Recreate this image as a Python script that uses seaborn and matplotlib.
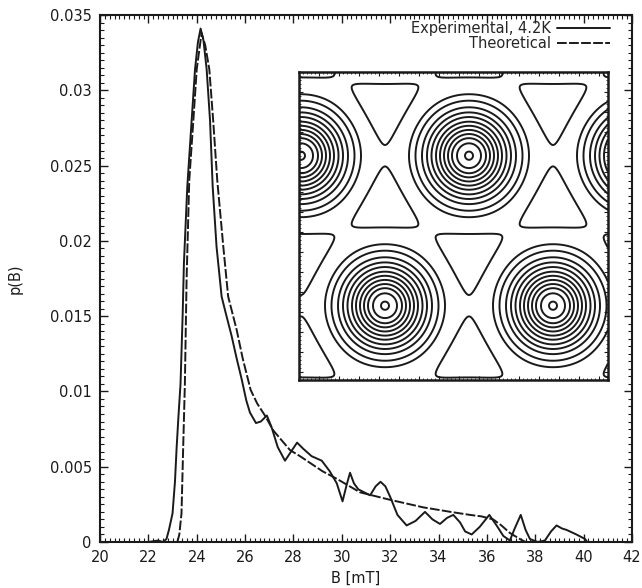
import numpy as np
import pandas as pd
import matplotlib
matplotlib.use("Agg")
import matplotlib.pyplot as plt
from matplotlib.ticker import MultipleLocator, FixedLocator, FuncFormatter
import seaborn as sns

# ---------------- data ----------------
exp_B = [20.0, 22.0, 22.4, 22.6, 22.75, 22.85, 23.0, 23.1, 23.17, 23.25, 23.33,
         23.42, 23.47, 23.61, 23.79, 23.93, 24.05, 24.16, 24.28, 24.41, 24.55,
         24.66, 24.82, 25.03, 25.2, 25.44, 25.65, 25.86, 26.05, 26.2, 26.45,
         26.65, 26.9, 27.1, 27.35, 27.65, 27.9, 28.15, 28.4, 28.75, 29.17,
         29.5, 29.79, 30.03, 30.2, 30.34, 30.5, 30.68, 31.17, 31.4, 31.6,
         31.8, 32.0, 32.3, 32.68, 33.05, 33.44, 33.75, 34.06, 34.35, 34.61,
         34.89, 35.1, 35.37, 35.7, 36.1, 36.4, 36.68, 36.95, 37.15, 37.4,
         37.6, 37.78, 38.1, 38.4, 38.65, 38.88, 39.1, 39.3, 39.7, 40.06, 40.15]
exp_p = [0.0, 0.0, 0.0001, 0.0, 0.0002, 0.0008, 0.0019, 0.0040, 0.0063, 0.0085, 0.0105,
         0.0152, 0.0185, 0.0236, 0.0280, 0.0314, 0.0332, 0.0341, 0.0333, 0.0314, 0.0280,
         0.0236, 0.0196, 0.0163, 0.0152, 0.0137, 0.0122, 0.0108, 0.0094, 0.0086, 0.0079,
         0.0080, 0.0084, 0.0076, 0.0063, 0.0054, 0.0060, 0.0066, 0.0062, 0.0057, 0.0054,
         0.0047, 0.0039, 0.0027, 0.0038, 0.0046, 0.0039, 0.0035, 0.0031, 0.0037, 0.0040,
         0.0037, 0.0030, 0.0018, 0.0011, 0.0014, 0.0020, 0.0015, 0.0012, 0.0016, 0.0018,
         0.0013, 0.0007, 0.0005, 0.0010, 0.0018, 0.0011, 0.0004, 0.0001, 0.0009, 0.0018,
         0.0008, 0.0002, 0.0, 0.0001, 0.0007, 0.0011, 0.0009, 0.0008, 0.0005, 0.0002, 0.0]

theo_B = [23.2, 23.28, 23.37, 23.44, 23.51, 23.58, 23.69, 23.86, 24.0, 24.2, 24.35,
          24.52, 24.68, 24.85, 25.1, 25.3, 25.65, 25.9, 26.23, 26.5, 26.82, 27.17,
          27.86, 28.27, 28.55, 29.2, 29.79, 30.75, 32.0, 33.37, 34.5, 35.3, 35.78,
          36.26, 36.6, 36.95, 37.36, 37.6]
theo_p = [0.0, 0.0005, 0.0019, 0.0063, 0.0105, 0.0174, 0.0240, 0.0280, 0.0314, 0.0338, 0.0330,
          0.0314, 0.0280, 0.0240, 0.0196, 0.0163, 0.0141, 0.0122, 0.0101, 0.0092, 0.0084, 0.0074,
          0.0061, 0.0057, 0.0054, 0.0047, 0.0042, 0.0033, 0.0028, 0.0023, 0.0020, 0.0018, 0.0017,
          0.0015, 0.0011, 0.0006, 0.0002, 0.0]

x_ticks = [20, 22, 24, 26, 28, 30, 32, 34, 36, 38, 40, 42]
y_ticks = [0, 0.005, 0.01, 0.015, 0.02, 0.025, 0.03, 0.035]
x_label = "B [mT]"
y_label = "p(B)"
labels = ["Experimental, 4.2K", "Theoretical"]

# inset: hexagonal vortex lattice (inset pixel coordinates, y downwards)
inset_size = (309, 308)
vortex_origin = (170.0, 83.7)
lattice_spacing = 168.0      # horizontal distance between vortices (px)
row_spacing = 150.0          # vertical distance between vortex rows (px)
ring_radii = [4, 12, 17, 21, 25, 29, 33, 37.5, 42, 47, 53.5, 60]
triangle_vertex_gap = 10.7   # distance of triangle tip from the saddle point (px)
london_lambda = 45.0
core_xi = 8.0

# ---------------- figure ----------------
sns.set_theme(style="ticks")
plt.rcParams['font.family'] = ['DejaVu Sans']

fig = plt.figure(figsize=(6.42, 5.88), dpi=100)
ax = fig.add_axes([100 / 642, 1 - 542 / 588, 532 / 642, 527 / 588])

df_exp = pd.DataFrame({"B": exp_B, "p": exp_p})
df_theo = pd.DataFrame({"B": theo_B, "p": theo_p})
sns.lineplot(data=df_exp, x="B", y="p", color="k", linewidth=1.4, ax=ax)
sns.lineplot(data=df_theo, x="B", y="p", color="k", linewidth=1.4, ax=ax)
l_exp, l_theo = ax.lines[0], ax.lines[1]
l_theo.set_dashes([5, 1.2])

ax.set_xlim(20, 42)
ax.set_ylim(0, 0.035)
ax.xaxis.set_major_locator(FixedLocator(x_ticks))
ax.yaxis.set_major_locator(FixedLocator(y_ticks))
ax.xaxis.set_minor_locator(MultipleLocator(0.2))
ax.yaxis.set_minor_locator(MultipleLocator(0.0005))
ax.xaxis.set_major_formatter(FuncFormatter(lambda v, p: "%g" % v))
ax.yaxis.set_major_formatter(FuncFormatter(lambda v, p: "%g" % round(v, 4)))
ax.tick_params(which="both", direction="in", top=True, right=True, color="k",
               labelsize=10.5, labelcolor="k")
ax.tick_params(which="major", length=6, width=1.0, pad=6)
ax.tick_params(which="minor", length=3, width=0.8)
for s in ax.spines.values():
    s.set_linewidth(1.5)
    s.set_color("k")
    s.set_visible(True)

ax.set_xlabel(x_label, fontsize=10.5, color="k")
ax.set_ylabel(y_label, fontsize=10.5, color="k")
ax.xaxis.set_label_coords(0.481, -0.054)
ax.yaxis.set_label_coords(-0.145, 0.5)

ax.legend(handles=[l_exp, l_theo], labels=labels, loc="upper right",
          bbox_to_anchor=(0.9586, 0.988), frameon=False, markerfirst=False,
          handlelength=3.6, handletextpad=0.45, labelspacing=0.0,
          borderpad=0, borderaxespad=0, fontsize=10.5)

# ---------------- inset: field contours ----------------
ax_in = fig.add_axes([299 / 642, 1 - 380 / 588, 309 / 642, 308 / 588])
W, H = inset_size
xs = np.linspace(0, W, 420)
ys = np.linspace(0, H, 420)
X, Y = np.meshgrid(xs, ys)

a = lattice_spacing
ideal_row = a * np.sqrt(3) / 2
yscale = ideal_row / row_spacing           # map picture rows onto an ideal triangular lattice
A = np.array([[a, 0.0], [a / 2, ideal_row]])
Bm = 2 * np.pi * np.linalg.inv(A).T
x0, y0 = vortex_origin


def field(px, py):
    u = np.asarray(px, float) - x0
    v = (np.asarray(py, float) - y0) * yscale
    out = np.zeros(np.broadcast(u, v).shape)
    for m in range(-12, 13):
        for n in range(-12, 13):
            G = m * Bm[0] + n * Bm[1]
            g2 = G @ G
            amp = np.exp(-core_xi ** 2 * g2 / 2) / (1 + london_lambda ** 2 * g2)
            if amp < 1e-8:
                continue
            out += amp * np.cos(G[0] * u + G[1] * v)
    return out


Z = field(X, Y)
r_line = np.linspace(0, a / 2, 800)
f_line = field(x0 + r_line, np.full_like(r_line, y0))
# field falls with radius: interpolate on reversed (increasing) arrays
ring_levels = np.interp(-np.array(ring_radii), -r_line[::-1], f_line[::-1])
# saddle between horizontal neighbours; triangle tip on the line towards the minimum
sx, sy = x0 - a / 2, y0
tri_level = float(field(sx, sy - triangle_vertex_gap))
levels = np.sort(np.concatenate([[tri_level], ring_levels]))

ax_in.set_facecolor("white")
ax_in.contour(X, Y, Z, levels=levels, colors="k", linewidths=1.4)
ax_in.set_xlim(0, W)
ax_in.set_ylim(H, 0)
ax_in.xaxis.set_major_locator(MultipleLocator(20))
ax_in.yaxis.set_major_locator(MultipleLocator(20))
ax_in.xaxis.set_minor_locator(MultipleLocator(4))
ax_in.yaxis.set_minor_locator(MultipleLocator(4))
ax_in.tick_params(which="both", direction="in", top=True, right=True, color="k",
                  labelbottom=False, labelleft=False)
ax_in.tick_params(which="major", length=3, width=0.8)
ax_in.tick_params(which="minor", length=1.5, width=0.6)
for s in ax_in.spines.values():
    s.set_linewidth(1.8)
    s.set_color("k")

fig.savefig("out.png", dpi=100)
